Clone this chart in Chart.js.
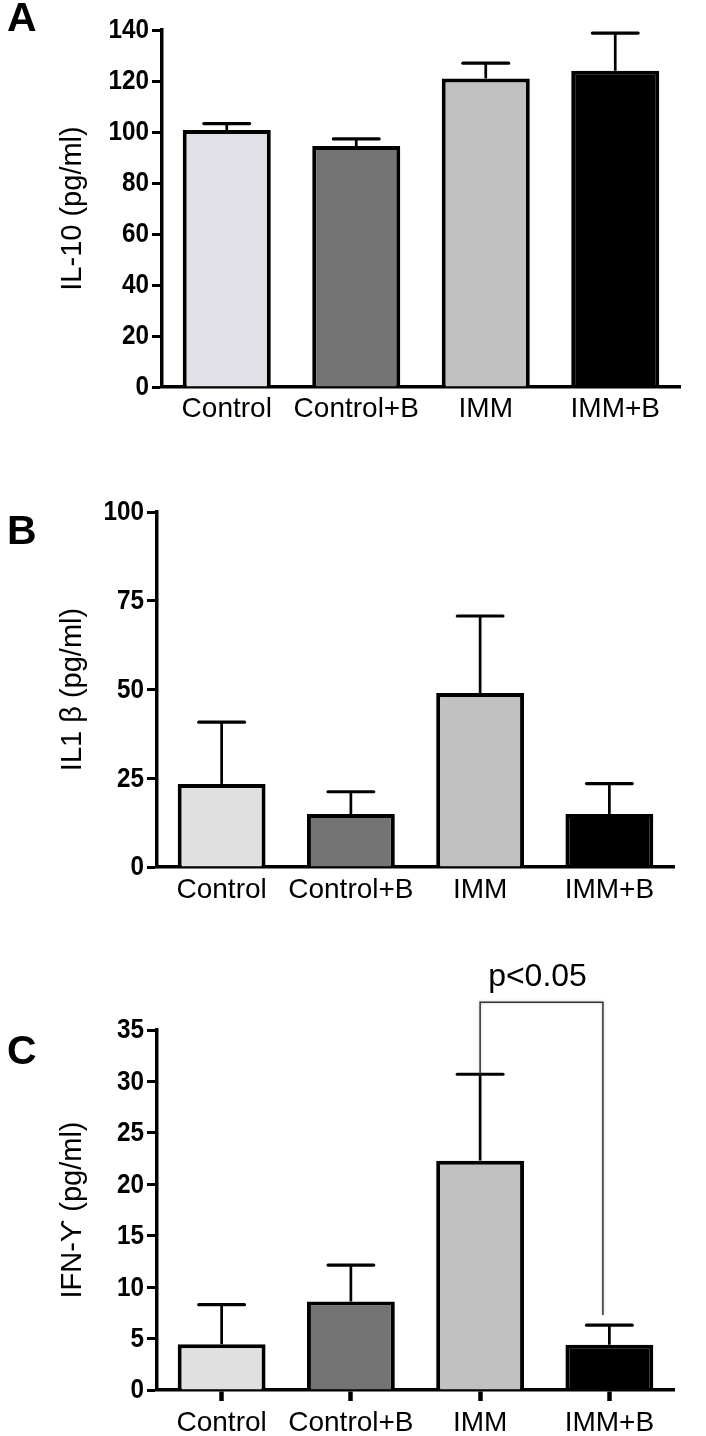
<!DOCTYPE html>
<html><head><meta charset="utf-8">
<script src="https://cdn.jsdelivr.net/npm/chart.js@4/dist/chart.umd.min.js"></script>
<style>
html,body{margin:0;padding:0;background:#fff;}
#wrap{position:relative;width:706px;height:1436px;overflow:hidden;}
.pan{position:absolute;left:0;width:706px;}
</style></head><body>
<div id="wrap">
<div class="pan" style="top:0;height:440px"><canvas id="cA"></canvas></div>
<div class="pan" style="top:440px;height:480px"><canvas id="cB"></canvas></div>
<div class="pan" style="top:920px;height:516px"><canvas id="cC"></canvas></div>
</div>
<script>
// ---- data ----
const categories = ['Control', 'Control+B', 'IMM', 'IMM+B'];
const barColors = ['#e0e0e4', '#737373', '#c1c1c1', '#000000'];

const il10Mean = [100.8, 94.5, 121, 124];
const il10ErrTop = [103.3, 97.3, 127, 138.8];
const il10Ticks = [0, 20, 40, 60, 80, 100, 120, 140];

const il1bMean = [23.4, 14.9, 49, 14.9];
const il1bErrTop = [40.8, 21.2, 70.7, 23.5];
const il1bTicks = [0, 25, 50, 75, 100];

const ifngMean = [4.45, 8.6, 22.3, 4.4];
const ifngErrTop = [8.3, 12.15, 30.7, 6.3];
const ifngTicks = [0, 5, 10, 15, 20, 25, 30, 35];

// significance bracket (panel C), in data units
const sigLabel = 'p<0.05';
const sigFromIndex = 2, sigToIndex = 2.95;
const sigTop = 37.7, sigLeftBottom = 30.7, sigRightBottom = 7.3;

// ---- fonts ----
const textFamily = "'Liberation Sans',Arial,Helvetica,sans-serif";

const errPlugin = {
  id: 'errbars',
  afterDatasetsDraw(chart) {
    const ctx = chart.ctx;
    const meta = chart.getDatasetMeta(0);
    const ys = chart.scales.y;
    const errs = chart.data.datasets[0].errTop;
    ctx.save();
    ctx.strokeStyle = '#000';
    meta.data.forEach((bar, i) => {
      const yTop = ys.getPixelForValue(errs[i]);
      const half = bar.width * 0.26;
      ctx.lineWidth = 2.7;
      ctx.lineCap = 'butt';
      ctx.beginPath(); ctx.moveTo(bar.x, bar.y); ctx.lineTo(bar.x, yTop); ctx.stroke();
      ctx.lineWidth = 3.2;
      ctx.lineCap = 'round';
      ctx.beginPath(); ctx.moveTo(bar.x - half, yTop); ctx.lineTo(bar.x + half, yTop); ctx.stroke();
    });
    ctx.restore();
  }
};

// bold, slightly condensed y tick labels (real text drawn on the canvas)
const yLabelPlugin = {
  id: 'yLabels',
  afterDraw(chart) {
    const ctx = chart.ctx;
    const s = chart.scales.y;
    const xRight = s.right - 13;
    ctx.save();
    ctx.fillStyle = '#000';
    ctx.font = "bold 27px " + textFamily;
    ctx.textAlign = 'right';
    ctx.textBaseline = 'middle';
    s.ticks.forEach(t => {
      const y = s.getPixelForValue(t.value);
      ctx.save();
      ctx.translate(xRight, y + 1);
      ctx.scale(0.9, 1);
      ctx.fillText(String(t.value), 0, 0);
      ctx.restore();
    });
    ctx.restore();
  }
};

const letterPlugin = {
  id: 'panelLetter',
  afterDraw(chart, args, o) {
    if (!o || !o.text) return;
    const ctx = chart.ctx;
    ctx.save();
    ctx.fillStyle = '#000';
    ctx.font = "bold 41px " + textFamily;
    ctx.textAlign = 'left';
    ctx.textBaseline = 'middle';
    ctx.fillText(o.text, o.x, o.y);
    ctx.restore();
  }
};

const bracketPlugin = {
  id: 'bracket',
  afterDraw(chart, args, o) {
    if (!o || !o.text) return;
    const ctx = chart.ctx;
    const xs = chart.scales.x, ys = chart.scales.y;
    const xl = xs.getPixelForValue(o.from), xr = xs.getPixelForValue(o.to);
    const yt = ys.getPixelForValue(o.top);
    const yl = ys.getPixelForValue(o.leftBottom), yr = ys.getPixelForValue(o.rightBottom);
    ctx.save();
    ctx.strokeStyle = '#333';
    ctx.lineWidth = 1.5;
    ctx.shadowColor = 'rgba(0,0,0,0.25)';
    ctx.shadowBlur = 3;
    ctx.beginPath();
    ctx.moveTo(xl, yl); ctx.lineTo(xl, yt); ctx.lineTo(xr, yt); ctx.lineTo(xr, yr);
    ctx.stroke();
    ctx.shadowBlur = 0; ctx.shadowColor = 'transparent';
    ctx.fillStyle = '#000';
    ctx.font = "32px " + textFamily;
    ctx.textAlign = 'center';
    ctx.textBaseline = 'middle';
    ctx.fillText(o.text, (xl + xr) / 2 - 4, yt - 25);
    ctx.restore();
  }
};

function makeChart(id, cfg) {
  const ticks = cfg.ticks;
  return new Chart(document.getElementById(id), {
    type: 'bar',
    data: {
      labels: categories,
      datasets: [{
        data: cfg.mean,
        errTop: cfg.err,
        backgroundColor: cfg.colors,
        borderColor: '#000',
        borderWidth: 4,
        borderSkipped: 'start',
        barPercentage: 0.68,
        categoryPercentage: 1.0
      }]
    },
    options: {
      responsive: true,
      maintainAspectRatio: false,
      animation: false,
      layout: { padding: { top: cfg.top, right: cfg.right, left: 0, bottom: 0 } },
      plugins: {
        legend: { display: false },
        tooltip: { enabled: false },
        panelLetter: { text: cfg.letter, x: 7, y: cfg.letterY },
        bracket: cfg.bracket || {}
      },
      scales: {
        x: {
          afterFit(s) { s.height = cfg.xHeight; },
          grid: cfg.xTicks
            ? { display: true, drawOnChartArea: false, drawTicks: true, tickLength: 11, tickWidth: 4.5, color: '#000', offset: false }
            : { display: false, drawTicks: false },
          border: { display: true, width: 3.5, color: '#000' },
          ticks: {
            color: '#000', autoSkip: false, maxRotation: 0, minRotation: 0,
            padding: cfg.xPad,
            font: { family: textFamily, size: 28 }
          }
        },
        y: {
          min: ticks[0], max: ticks[ticks.length - 1],
          afterFit(s) { s.width = cfg.left; },
          afterBuildTicks(s) { s.ticks = ticks.map(v => ({ value: v })); },
          grid: { display: true, drawOnChartArea: false, drawTicks: true, tickLength: 10, tickWidth: 3, color: '#000' },
          border: { display: true, width: 3.5, color: '#000' },
          ticks: {
            color: 'rgba(0,0,0,0)', padding: 3,
            font: { family: textFamily, size: 26, weight: 'bold' }
          },
          title: {
            display: true, text: cfg.title, color: '#000',
            font: { family: textFamily, size: 29 },
            padding: { top: 56, bottom: 0 }
          }
        }
      }
    },
    plugins: [errPlugin, yLabelPlugin, letterPlugin, bracketPlugin]
  });
}

makeChart('cA', {
  mean: il10Mean, err: il10ErrTop, ticks: il10Ticks,
  colors: ['#e1e0e7', barColors[1], barColors[2], barColors[3]],
  title: 'IL-10 (pg/ml)', letter: 'A', letterY: 20,
  top: 30, right: 26, left: 162, xHeight: 53, xPad: 5, xTicks: false
});
makeChart('cB', {
  mean: il1bMean, err: il1bErrTop, ticks: il1bTicks,
  colors: ['#e0e0e0', barColors[1], barColors[2], barColors[3]],
  title: 'IL1 \u03B2 (pg/ml)', letter: 'B', letterY: 93,
  top: 72, right: 32, left: 157, xHeight: 53, xPad: 6, xTicks: false
});
makeChart('cC', {
  mean: ifngMean, err: ifngErrTop, ticks: ifngTicks,
  colors: ['#e0e0e0', barColors[1], barColors[2], barColors[3]],
  title: 'IFN-\u03D2 (pg/ml)', letter: 'C', letterY: 133,
  top: 110, right: 32, left: 157, xHeight: 46, xPad: 5, xTicks: true,
  bracket: { text: sigLabel, from: sigFromIndex, to: sigToIndex, top: sigTop, leftBottom: sigLeftBottom, rightBottom: sigRightBottom }
});
</script>
</body></html>
